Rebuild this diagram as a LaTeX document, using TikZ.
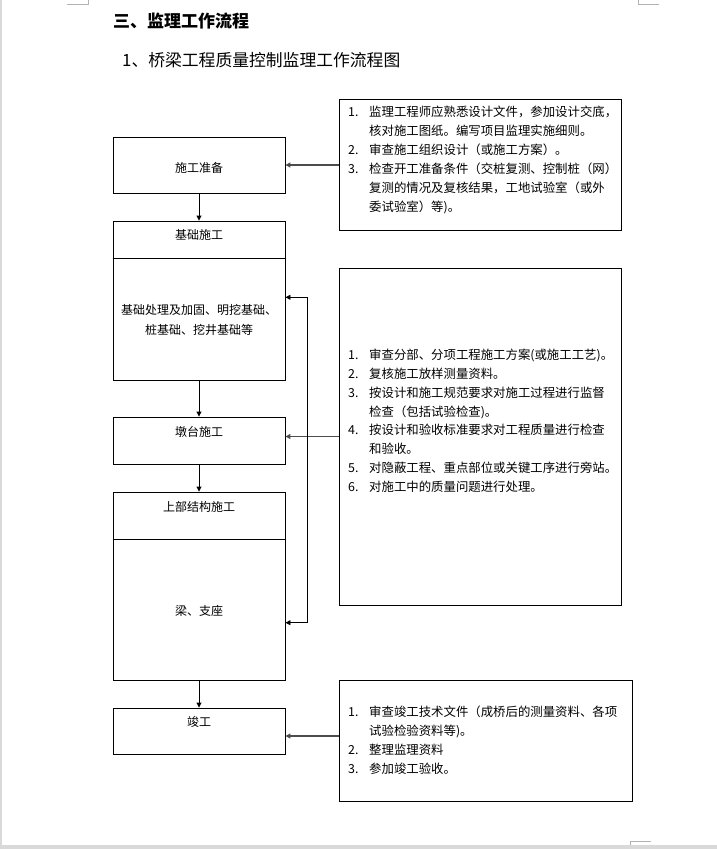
\documentclass[tikz,border=0pt]{standalone}
\usepackage{fontspec}
\setmainfont{Noto Sans CJK SC}
\usetikzlibrary{arrows.meta}
\begin{document}
\begin{tikzpicture}[x=1pt,y=-1pt,
  box/.style={draw=black, line width=0.9pt, inner sep=0pt},
  arr/.style={draw=black, line width=0.9pt, -{Triangle[length=5pt,width=5pt]}},
  farr/.style={draw=black!70, line width=1.3pt, -{Triangle[length=5pt,width=5pt]}},
  vline/.style={draw=black, line width=0.9pt},
  lbl/.style={inner sep=0pt, font=\fontsize{12}{12}\selectfont, text height=10.5pt, text depth=1.5pt},
  itm/.style={inner sep=0pt, anchor=west, font=\fontsize{12.4}{12.4}\selectfont, text height=10.9pt, text depth=1.5pt},
  cropmark/.style={draw=black!30, line width=0.8pt},
]
\useasboundingbox (0,0) rectangle (717,849);
% page decorations
\fill[black!15] (0,0) rectangle (2,849);
\fill[black!15] (0,845) rectangle (717,849);
\draw[cropmark] (67,4.5) -- (88,4.5) -- (88,0);
\draw[cropmark] (638,0) -- (638,4.5) -- (659,4.5);
\draw[cropmark] (630,845) -- (630,841.5) -- (651,841.5);

% headings
\node[anchor=west, inner sep=0pt, font=\fontsize{17}{17}\selectfont\bfseries] (title) at (113,21) {三、监理工作流程};
\node[anchor=west, inner sep=0pt, font=\fontsize{16.8}{16.8}\selectfont] (subtitle) at (122,60) {1、桥梁工程质量控制监理工作流程图};

% left column boxes
\node[box, minimum width=172pt, minimum height=56pt] (prep) at (199,165) {};
\node[box, minimum width=172pt, minimum height=159pt] (found) at (199,300.5) {};
\node[box, minimum width=172pt, minimum height=47pt] (pier) at (199,440.5) {};
\node[box, minimum width=172pt, minimum height=188pt] (super) at (199,586) {};
\node[box, minimum width=172pt, minimum height=46pt] (done) at (199,731) {};
\draw[vline] (found.west |- 0,258) -- (found.east |- 0,258);
\draw[vline] (super.west |- 0,539) -- (super.east |- 0,539);

\node[lbl] (tprep) at (199,167.5) {施工准备};
\node[lbl] (tfound) at (199,235) {基础施工};
\node[lbl] (tfound1) at (199,310) {基础处理及加固、明挖基础、};
\node[lbl] (tfound2) at (199,330) {桩基础、挖井基础等};
\node[lbl] (tpier) at (199,432.3) {墩台施工};
\node[lbl] (tsuper) at (199,507.3) {上部结构施工};
\node[lbl] (tbeam) at (199,610.7) {梁、支座};
\node[lbl] (tdone) at (199,721.7) {竣工};

% right column boxes
\node[box, minimum width=282pt, minimum height=131pt] (r1) at (480,164.5) {};
\node[box, minimum width=282pt, minimum height=337pt] (r2) at (480,436.5) {};
\node[box, minimum width=293pt, minimum height=121pt] (r3) at (485.5,740.5) {};

% box 1 items
\node[itm] (n11) at (348,111.7) {1.};
\node[itm] (t11) at (369,111.7) {监理工程师应熟悉设计文件，参加设计交底，};
\node[itm] (t11b) at (369,130.7) {核对施工图纸。编写项目监理实施细则。};
\node[itm] (n12) at (348,149.7) {2.};
\node[itm] (t12) at (369,149.7) {审查施工组织设计（或施工方案）。};
\node[itm] (n13) at (348,168.7) {3.};
\node[itm] (t13) at (369,168.7) {检查开工准备条件（交桩复测、控制桩（网）};
\node[itm] (t13b) at (369,187.7) {复测的情况及复核结果，工地试验室（或外};
\node[itm] (t13c) at (369,206.7) {委试验室）等)。};

% box 2 items
\node[itm] (n21) at (348,355) {1.};
\node[itm] (t21) at (369,355) {审查分部、分项工程施工方案(或施工工艺)。};
\node[itm] (n22) at (348,373.8) {2.};
\node[itm] (t22) at (369,373.8) {复核施工放样测量资料。};
\node[itm] (n23) at (348,392.6) {3.};
\node[itm] (t23) at (369,392.6) {按设计和施工规范要求对施工过程进行监督};
\node[itm] (t23b) at (369,411.4) {检查（包括试验检查)。};
\node[itm] (n24) at (348,430.2) {4.};
\node[itm] (t24) at (369,430.2) {按设计和验收标准要求对工程质量进行检查};
\node[itm] (t24b) at (369,449) {和验收。};
\node[itm] (n25) at (348,467.8) {5.};
\node[itm] (t25) at (369,467.8) {对隐蔽工程、重点部位或关键工序进行旁站。};
\node[itm] (n26) at (348,486.6) {6.};
\node[itm] (t26) at (369,486.6) {对施工中的质量问题进行处理。};

% box 3 items
\node[itm] (n31) at (348,712) {1.};
\node[itm] (t31) at (369,712) {审查竣工技术文件（成桥后的测量资料、各项};
\node[itm] (t31b) at (369,731) {试验检验资料等)。};
\node[itm] (n32) at (348,750) {2.};
\node[itm] (t32) at (369,750) {整理监理资料};
\node[itm] (n33) at (348,769) {3.};
\node[itm] (t33) at (369,769) {参加竣工验收。};

% vertical flow arrows
\draw[arr] (prep.south) -- (found.north);
\draw[arr] (found.south) -- (pier.north);
\draw[arr] (pier.south) -- (super.north);
\draw[arr] (super.south) -- (done.north);

% feedback arrows from right boxes
\draw[farr] (r1.west |- prep.east) -- (prep.east);
\draw[farr] (r2.west) -- (r2.west -| pier.east);
\coordinate (c3) at (339,736);
\draw[farr] (c3) -- (c3 -| done.east);

% bracket
\coordinate (bt) at (307,297.3);
\coordinate (bb) at (307,622.7);
\draw[vline] (bt) -- (bb);
\draw[arr] (bt) -- (bt -| found.east);
\draw[arr] (bb) -- (bb -| super.east);
\end{tikzpicture}
\end{document}
